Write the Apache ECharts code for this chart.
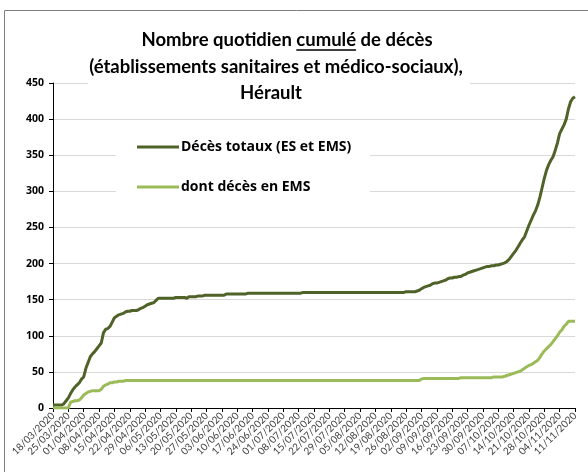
<!DOCTYPE html>
<html>
<head>
<meta charset="utf-8">
<script src="https://cdn.jsdelivr.net/npm/echarts@6/dist/echarts.min.js"></script>
<style>html,body{margin:0;padding:0;background:#fff}#c{width:588px;height:472px}</style>
</head>
<body>
<div id="c"></div>
<script>
// ---- data ----
var startDate = [2020, 3, 18];
var nDays = 239;
var seriesNames = ['Décès totaux (ES et EMS)', 'dont décès en EMS'];
var totalDeaths = [
  4,4,4,4,4,6,10,14,20,25,
  29,32,35,40,43,55,63,71,75,78,
  82,86,90,104,109,110,113,119,125,127,
  129,130,131,133,134,134,135,135,135,136,
  138,139,141,143,144,145,146,149,152,152,
  152,152,152,152,152,152,153,153,153,153,
  153,152,154,154,154,154,155,155,155,156,
  156,156,156,156,156,156,156,156,156,158,
  158,158,158,158,158,158,158,158,158,159,
  159,159,159,159,159,159,159,159,159,159,
  159,159,159,159,159,159,159,159,159,159,
  159,159,159,159,160,160,160,160,160,160,
  160,160,160,160,160,160,160,160,160,160,
  160,160,160,160,160,160,160,160,160,160,
  160,160,160,160,160,160,160,160,160,160,
  160,160,160,160,160,160,160,160,160,160,
  160,161,161,161,161,161,162,163,165,167,
  168,169,170,172,173,173,174,175,176,177,
  179,180,180,181,181,182,182,184,185,187,
  188,189,190,191,192,193,194,195,196,196,
  197,197,198,198,199,200,201,203,206,210,
  214,218,223,228,233,237,245,253,260,267,
  273,281,292,305,318,329,337,343,348,357,
  367,380,386,392,400,414,424,429,431
];
var emsDeaths = [
  0,0,0,0,0,0,0,0,8,9,
  10,10,11,14,18,20,22,23,24,24,
  24,24,26,30,32,33,35,35,36,36,
  37,37,37,38,38,38,38,38,38,38,
  38,38,38,38,38,38,38,38,38,38,
  38,38,38,38,38,38,38,38,38,38,
  38,38,38,38,38,38,38,38,38,38,
  38,38,38,38,38,38,38,38,38,38,
  38,38,38,38,38,38,38,38,38,38,
  38,38,38,38,38,38,38,38,38,38,
  38,38,38,38,38,38,38,38,38,38,
  38,38,38,38,38,38,38,38,38,38,
  38,38,38,38,38,38,38,38,38,38,
  38,38,38,38,38,38,38,38,38,38,
  38,38,38,38,38,38,38,38,38,38,
  38,38,38,38,38,38,38,38,38,38,
  38,38,38,38,38,38,38,38,40,41,
  41,41,41,41,41,41,41,41,41,41,
  41,41,41,41,41,41,42,42,42,42,
  42,42,42,42,42,42,42,42,42,42,
  42,43,43,43,43,43,44,45,46,47,
  48,49,50,51,53,55,57,59,60,62,
  64,66,70,75,79,82,85,88,92,96,
  100,105,108,113,116,120,120,120,120
];
var yTicks = [0, 50, 100, 150, 200, 250, 300, 350, 400, 450];
var titleLines = ['Nombre quotidien cumulé de décès', '(établissements sanitaires et médico-sociaux),', 'Hérault'];

// ---- categories (dates) ----
function pad(n){return (n<10?'0':'')+n;}
var categories = [];
for (var i = 0; i < nDays; i++) {
  var d = new Date(Date.UTC(startDate[0], startDate[1]-1, startDate[2] + i));
  categories.push(pad(d.getUTCDate()) + '/' + pad(d.getUTCMonth()+1) + '/' + d.getUTCFullYear());
}

// ---- styling / layout ----
var FONT = 'Lato';
var LFONT = 'Open Sans';
var titleSize = 18.5;
var titleCenters = [[287, 40], [276, 67], [271, 93]];
var lh = 26;
var colors = ['#4f6228', '#9bbb59'];
var legendX = 137, legendY = [147, 187], legendLineW = 42;

var cv = document.createElement('canvas').getContext('2d');
cv.font = 'bold ' + titleSize + 'px ' + FONT;
var wFull = cv.measureText(titleLines[0]).width;
var wPre = cv.measureText('Nombre quotidien ').width;
var wU = cv.measureText('cumulé').width;
var uStart = titleCenters[0][0] - wFull/2 + wPre;

// legend font size chosen so the first label is ~172px wide
cv.font = 'bold 20px "' + LFONT + '"';
var legendFont = Math.min(14, 20 * 172 / cv.measureText(seriesNames[0]).width);

var titles = titleLines.map(function(t, k){
  return {
    text: t, left: titleCenters[k][0], top: titleCenters[k][1] - lh/2, textAlign: 'center',
    padding: 0, z: 8,
    textStyle: {fontFamily: FONT, fontWeight: 'bold', fontSize: titleSize, color: '#000', lineHeight: lh}
  };
});
seriesNames.forEach(function(n, k){
  titles.push({
    text: n, left: legendX + legendLineW + 2, top: legendY[k] - 9, padding: 0, z: 9,
    textStyle: {fontFamily: LFONT, fontWeight: 'bold', fontSize: legendFont, color: '#000', lineHeight: 18}
  });
});

var graphics = [
  {type: 'rect', z: 100, silent: true, shape: {x: 4.5, y: 10.5, width: 640, height: 520}, style: {fill: 'none', stroke: '#7f7f7f', lineWidth: 1}},
  {type: 'rect', z: 3, silent: true, shape: {x: 88, y: 24, width: 382, height: 82}, style: {fill: '#fff'}},
  {type: 'line', z: 9, silent: true, shape: {x1: uStart, y1: 50, x2: uStart + wU, y2: 50}, style: {stroke: '#000', lineWidth: 1.5}},
  {type: 'rect', z: 3, silent: true, shape: {x: 116, y: 128, width: 254, height: 80}, style: {fill: '#fff'}}
];
seriesNames.forEach(function(n, k){
  graphics.push({type: 'line', z: 9, silent: true,
    shape: {x1: legendX, y1: legendY[k], x2: legendX + legendLineW, y2: legendY[k]},
    style: {stroke: colors[k], lineWidth: 3}});
});

var chart = echarts.init(document.getElementById('c'), null, {renderer: 'canvas'});
chart.setOption({
  animation: false,
  backgroundColor: '#fff',
  title: titles,
  graphic: graphics,
  grid: {left: 53, right: 13, top: 83, bottom: 64, containLabel: false},
  xAxis: {
    type: 'category', data: categories, boundaryGap: false,
    axisLine: {lineStyle: {color: '#000', width: 1}},
    axisTick: {show: true, interval: 6, length: 4, lineStyle: {color: '#000'}},
    axisLabel: {interval: 6, rotate: 45, margin: 6, fontFamily: FONT, fontSize: 10, color: '#404040'},
    splitLine: {show: false}
  },
  yAxis: {
    type: 'value', min: yTicks[0], max: yTicks[yTicks.length-1], interval: 50,
    axisLine: {show: true, lineStyle: {color: '#000', width: 1}},
    axisTick: {show: true, length: 4, lineStyle: {color: '#000'}},
    axisLabel: {margin: 9, fontFamily: LFONT, fontWeight: 'bold', fontSize: 10.5, color: '#000'},
    splitLine: {show: true, lineStyle: {color: '#d9d9d9', width: 1}}
  },
  series: [
    {name: seriesNames[0], type: 'line', data: totalDeaths, symbol: 'none', z: 2,
     lineStyle: {color: colors[0], width: 3}, itemStyle: {color: colors[0]}},
    {name: seriesNames[1], type: 'line', data: emsDeaths, symbol: 'none', z: 2,
     lineStyle: {color: colors[1], width: 3}, itemStyle: {color: colors[1]}}
  ]
});
</script>
</body>
</html>
